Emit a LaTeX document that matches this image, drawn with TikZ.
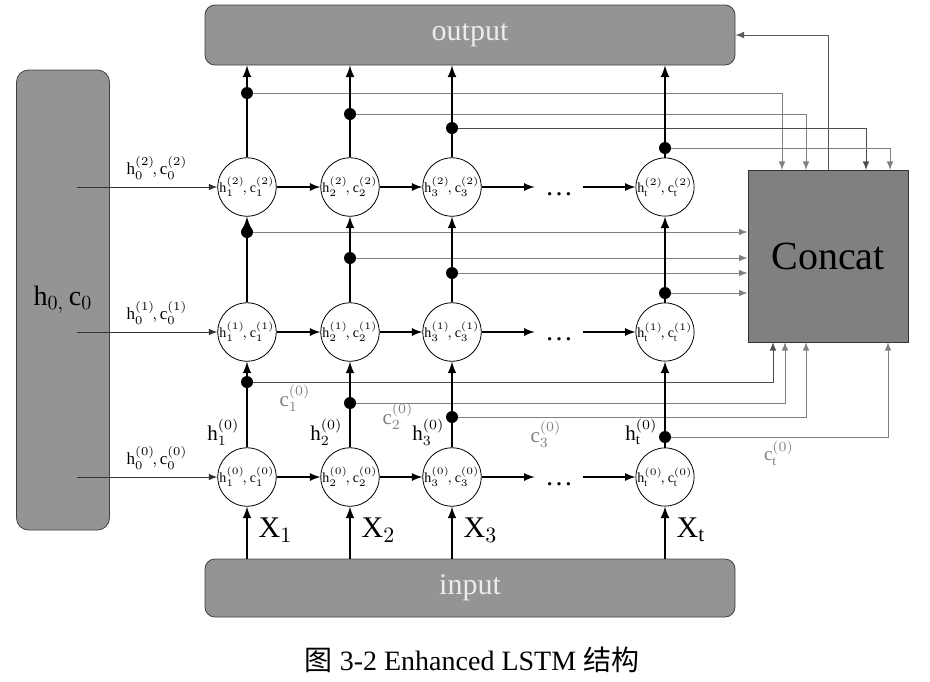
\documentclass[tikz,border=0pt]{standalone}
\usepackage{fontspec}
\setmainfont{Liberation Serif}
\newfontfamily\cjk{Noto Sans CJK SC}
\usetikzlibrary{arrows,calc}

\definecolor{boxgray}{gray}{0.58}
\definecolor{concatgray}{gray}{0.5}

\begin{document}
\begin{tikzpicture}[x=0.5pt, y=-0.5pt]

      \tikzstyle{box_style} = [draw=black!75, fill=boxgray, rounded corners=5pt, inner sep=0pt, text=white!85!gray, font=\fontsize{15}{17}\selectfont]
        \tikzstyle{cell_style} = [circle, draw, fill=white, minimum size=27pt, inner sep=0pt, font=\fontsize{7}{8}\selectfont]
            \tikzstyle{dot_style} = [circle, fill=black, minimum size=6pt, inner sep=0pt]
            \tikzstyle{dots_style} = [minimum width=24pt, inner sep=0pt, text height=8pt, text depth=0pt, font=\fontsize{14}{16}\selectfont]
            \tikzstyle{gray_line} = [draw=gray, line width=0.5pt, -latex]

      \useasboundingbox (0,0) rectangle (930,681);

            \draw
              (63, 300) node[box_style, minimum width=46.5pt, minimum height=230pt, rounded corners=6pt, text=black, font=\fontsize{14}{16}\selectfont] (0){$\mathrm{h}_{0,}\,\mathrm{c}_0$}
              (470, 35) node[box_style, minimum width=265pt, minimum height=30pt] (1){output}
              (470, 588) node[box_style, minimum width=265pt, minimum height=29pt] (2){input}
              (828, 256) node[draw=black!80, fill=concatgray, minimum width=80pt, minimum height=86pt, inner sep=0pt, font=\fontsize{20}{22}\selectfont] (3){Concat}
              (247, 187) node[cell_style] (4){$\mathrm{h}_1^{(2)}\!,\mathrm{c}_1^{(2)}$}
              (350, 187) node[cell_style] (5){$\mathrm{h}_2^{(2)}\!,\mathrm{c}_2^{(2)}$}
              (452, 187) node[cell_style] (6){$\mathrm{h}_3^{(2)}\!,\mathrm{c}_3^{(2)}$}
              (665, 187) node[cell_style] (7){$\mathrm{h}_\mathrm{t}^{(2)}\!,\mathrm{c}_\mathrm{t}^{(2)}$}
              (247, 332) node[cell_style] (8){$\mathrm{h}_1^{(1)}\!,\mathrm{c}_1^{(1)}$}
              (350, 332) node[cell_style] (9){$\mathrm{h}_2^{(1)}\!,\mathrm{c}_2^{(1)}$}
              (452, 332) node[cell_style] (10){$\mathrm{h}_3^{(1)}\!,\mathrm{c}_3^{(1)}$}
              (665, 332) node[cell_style] (11){$\mathrm{h}_\mathrm{t}^{(1)}\!,\mathrm{c}_\mathrm{t}^{(1)}$}
              (247, 477) node[cell_style] (12){$\mathrm{h}_1^{(0)}\!,\mathrm{c}_1^{(0)}$}
              (350, 477) node[cell_style] (13){$\mathrm{h}_2^{(0)}\!,\mathrm{c}_2^{(0)}$}
              (452, 477) node[cell_style] (14){$\mathrm{h}_3^{(0)}\!,\mathrm{c}_3^{(0)}$}
              (665, 477) node[cell_style] (15){$\mathrm{h}_\mathrm{t}^{(0)}\!,\mathrm{c}_\mathrm{t}^{(0)}$}
              (559, 187) node[dots_style] (16){\ldots}
              (559, 332) node[dots_style] (17){\ldots}
              (559, 477) node[dots_style] (18){\ldots}
              (247, 93) node[dot_style] (19){}
              (350, 114) node[dot_style] (20){}
              (452, 128) node[dot_style] (21){}
              (665, 148) node[dot_style] (22){}
              (247, 232) node[dot_style] (23){}
              (350, 258) node[dot_style] (24){}
              (452, 273) node[dot_style] (25){}
              (665, 293) node[dot_style] (26){}
              (247, 382) node[dot_style] (27){}
              (350, 403) node[dot_style] (28){}
              (452, 417) node[dot_style] (29){}
              (665, 437) node[dot_style] (30){}
              (782, 170) coordinate (31)
              (806, 170) coordinate (32)
              (866, 170) coordinate (33)
              (890, 170) coordinate (34)
              (773, 342) coordinate (35)
              (785, 342) coordinate (36)
              (806, 342) coordinate (37)
              (888, 342) coordinate (38)
              (295, 398) node[text=gray, font=\fontsize{10.5}{12}\selectfont] (39){$\mathrm{c}_1^{(0)}$}
              (398, 416) node[text=gray, font=\fontsize{10.5}{12}\selectfont] (40){$\mathrm{c}_2^{(0)}$}
              (546, 434) node[text=gray, font=\fontsize{10.5}{12}\selectfont] (41){$\mathrm{c}_3^{(0)}$}
              (779, 453) node[text=gray, font=\fontsize{9.5}{11}\selectfont] (42){$\mathrm{c}_\mathrm{t}^{(0)}$}
              (472, 660) node[font=\fontsize{14}{16}\selectfont] (43){{\cjk 图} 3-2 Enhanced LSTM {\cjk 结构}};

      \begin{scope}[gray_line]
        \draw (19) -| (31);
        \draw (20) -| (32);
        \draw[draw=gray!60!black] (21) -| (33);
        \draw (22) -| (34);
        \draw (23) -- (23 -| 3.west);
        \draw (24) -- (24 -| 3.west);
        \draw (25) -- (25 -| 3.west);
        \draw (26) -- (26 -| 3.west);
        \draw[draw=black!70] (27) -| (35);
        \draw (28) -| (36);
        \draw (29) -| (37);
        \draw (30) -| (38);
        \draw[draw=black!65] (3.north) |- (1.east);
      \end{scope}

      \begin{scope}[-latex, line width=1pt]
        \draw (12 |- 2.north) to node[right=2pt, pos=0.55, font=\fontsize{15}{17}\selectfont] {$\mathrm{X}_1$} (12);
        \draw (13 |- 2.north) to node[right=2pt, pos=0.55, font=\fontsize{15}{17}\selectfont] {$\mathrm{X}_2$} (13);
        \draw (14 |- 2.north) to node[right=2pt, pos=0.55, font=\fontsize{15}{17}\selectfont] {$\mathrm{X}_3$} (14);
        \draw (15 |- 2.north) to node[right=2pt, pos=0.55, font=\fontsize{15}{17}\selectfont] {$\mathrm{X}_\mathrm{t}$} (15);
        \draw (12) to node[left=0pt, pos=0.18, font=\fontsize{10.5}{12}\selectfont] {$\mathrm{h}_1^{(0)}$} (8);
        \draw (13) to node[left=0pt, pos=0.18, font=\fontsize{10.5}{12}\selectfont] {$\mathrm{h}_2^{(0)}$} (9);
        \draw (14) to node[left=0pt, pos=0.18, font=\fontsize{10.5}{12}\selectfont] {$\mathrm{h}_3^{(0)}$} (10);
        \draw (15) to node[left=0pt, pos=0.18, font=\fontsize{10.5}{12}\selectfont] {$\mathrm{h}_\mathrm{t}^{(0)}$} (11);
        \draw (8) to (4);
        \draw (9) to (5);
        \draw (10) to (6);
        \draw (11) to (7);
        \draw (4) to (4 |- 1.south);
        \draw (5) to (5 |- 1.south);
        \draw (6) to (6 |- 1.south);
        \draw (7) to (7 |- 1.south);
        \draw[line width=0.8pt] (4) to (5);
        \draw[line width=0.8pt] (5) to (6);
        \draw[line width=0.8pt] (6) to (16);
        \draw[line width=0.8pt] (16) to (7);
        \draw[line width=0.8pt] (8) to (9);
        \draw[line width=0.8pt] (9) to (10);
        \draw[line width=0.8pt] (10) to (17);
        \draw[line width=0.8pt] (17) to (11);
        \draw[line width=0.8pt] (12) to (13);
        \draw[line width=0.8pt] (13) to (14);
        \draw[line width=0.8pt] (14) to (18);
        \draw[line width=0.8pt] (18) to (15);
      \end{scope}

      \begin{scope}[-latex, line width=0.5pt, draw=black!80, text=black, font=\fontsize{8.5}{10}\selectfont]
        \draw ($(0.center |- 4)+(14,0)$) to node[above, pos=0.57] {$\mathrm{h}_0^{(2)}\!,\mathrm{c}_0^{(2)}$} (4);
        \draw ($(0.center |- 8)+(14,0)$) to node[above, pos=0.57] {$\mathrm{h}_0^{(1)}\!,\mathrm{c}_0^{(1)}$} (8);
        \draw ($(0.center |- 12)+(14,0)$) to node[above, pos=0.57] {$\mathrm{h}_0^{(0)}\!,\mathrm{c}_0^{(0)}$} (12);
      \end{scope}
    \end{tikzpicture}
\end{document}
